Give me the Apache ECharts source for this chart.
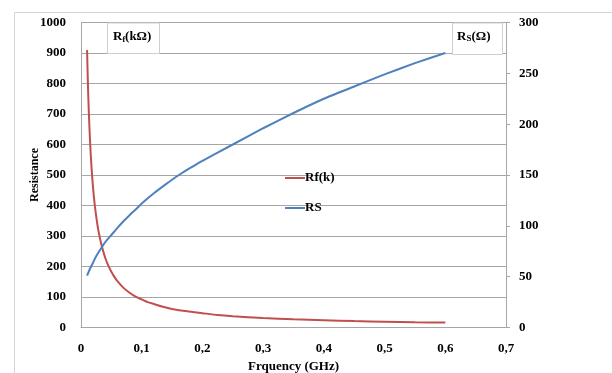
<!DOCTYPE html>
<html>
<head>
<meta charset="utf-8">
<script src="https://cdn.jsdelivr.net/npm/echarts@6/dist/echarts.min.js"></script>
<style>
  html, body { margin: 0; padding: 0; background: #fff; }
  #chart { width: 612px; height: 373px; }
</style>
</head>
<body>
<div id="chart"></div>
<script>
// values
const rfFreq = [0.01, 0.0115, 0.013, 0.0145, 0.016, 0.0175, 0.019, 0.021, 0.023, 0.025, 0.0275, 0.03, 0.0325, 0.035, 0.04, 0.045, 0.05, 0.055, 0.06, 0.07, 0.08, 0.09, 0.1, 0.11, 0.12, 0.135, 0.15, 0.175, 0.2, 0.225, 0.25, 0.3, 0.35, 0.4, 0.45, 0.5, 0.55, 0.6];
const rfValues = [910, 790, 700, 628, 569, 520, 479, 433, 396, 365, 331, 304, 281, 261, 228, 203, 183, 166, 152, 130, 114, 101, 92, 83, 77, 68, 61, 53, 47, 41, 37, 31, 27, 24, 21, 19, 17, 16];

const rsFreq = [0.01, 0.015, 0.02, 0.025, 0.03, 0.04, 0.05, 0.06, 0.07, 0.08, 0.09, 0.1, 0.12, 0.14, 0.16, 0.18, 0.2, 0.25, 0.3, 0.35, 0.4, 0.45, 0.5, 0.55, 0.6];
const rsValues = [51, 58, 64, 70, 75, 84, 91, 98, 104.5, 110.5, 116, 122, 132, 141, 149.5, 157, 164, 180, 196, 211, 225, 237, 249, 260, 270];

const seriesNames = ["Rf(k)", "RS"];
const xTicks = { min: 0, max: 0.7, step: 0.1 };

const font = "Liberation Serif";
const gridColor = "#a6a6a6";
const labelStyle = { color: "#000", fontFamily: font, fontWeight: "bold", fontSize: 13 };

const chart = echarts.init(document.getElementById("chart"), null, { renderer: "canvas" });

chart.setOption({
  animation: false,
  backgroundColor: "#fff",
  grid: { left: 81, right: 106, top: 22.5, bottom: 45.5, containLabel: false, outerBoundsMode: "none" },
  legend: {
    orient: "vertical",
    left: 280,
    top: 164,
    itemWidth: 20,
    itemHeight: 2,
    itemGap: 12,
    icon: "rect",
    textStyle: { ...labelStyle, lineHeight: 14, padding: [4, 0, 0, -5] },
    data: seriesNames
  },
  xAxis: {
    type: "value",
    min: xTicks.min,
    max: xTicks.max,
    interval: xTicks.step,
    name: "Frquency (GHz)",
    nameLocation: "middle",
    nameGap: 33,
    nameMoveOverlap: false,
    nameTextStyle: labelStyle,
    axisLine: { show: true, lineStyle: { color: gridColor } },
    axisTick: { show: false },
    splitLine: { show: false },
    axisLabel: {
      ...labelStyle,
      margin: 15,
      formatter: (v) => (v === 0 ? "0" : v.toFixed(1).replace(".", ","))
    }
  },
  yAxis: [
    {
      type: "value",
      min: 0,
      max: 1000,
      interval: 100,
      name: "Resistance",
      nameLocation: "middle",
      nameGap: 40,
      nameMoveOverlap: false,
      nameTextStyle: { ...labelStyle, fontSize: 12 },
      axisLine: { show: true, lineStyle: { color: gridColor } },
      axisTick: { show: false },
      splitLine: { lineStyle: { color: gridColor } },
      axisLabel: { ...labelStyle, margin: 15, formatter: (v) => String(v) }
    },
    {
      type: "value",
      min: 0,
      max: 300,
      interval: 50,
      position: "right",
      axisLine: { show: true, lineStyle: { color: gridColor } },
      axisTick: { show: true, length: 4, lineStyle: { color: gridColor } },
      splitLine: { show: false },
      axisLabel: { ...labelStyle, margin: 13 }
    }
  ],
  graphic: [
    {
      type: "rect",
      left: 12, top: 10,
      shape: { width: 599, height: 380 },
      style: { fill: "none", stroke: "#d4d4d4", lineWidth: 1 },
      silent: true
    },
    {
      type: "rect",
      left: 107, top: 22.5,
      shape: { width: 52, height: 30.5 },
      style: { fill: "#fff", stroke: "#cfcfcf", lineWidth: 1 },
      z: 10
    },
    {
      type: "text",
      left: 113, top: 30,
      style: {
        text: "R{sub|f}(kΩ)",
        fill: "#000",
        font: "bold 13px " + font,
        rich: { sub: { fontSize: 8, fontWeight: "bold", fontFamily: font, padding: [6, 0, 0, 0] } }
      },
      z: 11
    },
    {
      type: "rect",
      left: 452, top: 22.5,
      shape: { width: 50, height: 31.5 },
      style: { fill: "#fff", stroke: "#cfcfcf", lineWidth: 1 },
      z: 10
    },
    {
      type: "text",
      left: 457, top: 30,
      style: {
        text: "R{sub|S}(Ω)",
        fill: "#000",
        font: "bold 13px " + font,
        rich: { sub: { fontSize: 9, fontWeight: "bold", fontFamily: font, padding: [5, 0, 0, 0] } }
      },
      z: 11
    }
  ],
  series: [
    {
      name: seriesNames[0],
      type: "line",
      yAxisIndex: 0,
      data: rfFreq.map((f, i) => [f, rfValues[i]]),
      showSymbol: false,
      smooth: 0.2,
      color: "#C0504D",
      lineStyle: { width: 2 }
    },
    {
      name: seriesNames[1],
      type: "line",
      yAxisIndex: 1,
      data: rsFreq.map((f, i) => [f, rsValues[i]]),
      showSymbol: false,
      smooth: 0.2,
      color: "#4F81BD",
      lineStyle: { width: 2 }
    }
  ]
});
</script>
</body>
</html>
